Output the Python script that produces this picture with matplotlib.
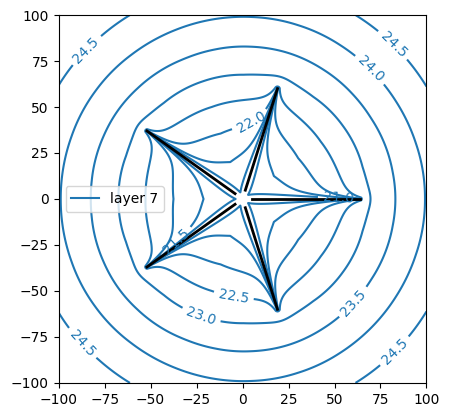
import matplotlib
matplotlib.use("Agg")
import matplotlib.pyplot as plt
import numpy as np
from matplotlib.lines import Line2D

# star arms (tips)
tip_x = np.array([64.0, 19.0, -52.0, -52.0, 19.0])
tip_y = np.array([0.0, 60.0, 37.0, -37.0, -60.0])
arm_inner = 5.0

# radial profile of the surface away from the arms (read along the bisectors)
profile_r = [0, 23, 39, 52, 66, 81, 99, 120, 145]
profile_level = [21.15, 21.6, 22.1, 22.55, 23.03, 23.52, 24.0, 24.5, 25.1]

levels = [21.0, 21.5, 22.0, 22.5, 23.0, 23.5, 24.0, 24.5]
label_pos = [(-88, 84), (84, 86), (70, 71), (3, 45), (52, 0), (-37, -22),
             (-5, -54), (-22, -62), (59, -55), (-91, -82), (85, -85)]

x = np.linspace(-100, 100, 801)
X, Y = np.meshgrid(x, x)
R = np.hypot(X, Y)
coef = np.polyfit(profile_r, profile_level, 3)
Z = np.polyval(coef, R)

# valley along every arm, deep in the middle, narrow at centre and tip
H = np.zeros_like(Z)
for tx, ty in zip(tip_x, tip_y):
    L = np.hypot(tx, ty)
    ux, uy = tx / L, ty / L
    t = np.clip(X * ux + Y * uy, 0, L)
    d = np.hypot(X - t * ux, Y - t * uy)
    K = 0.45 + 0.2 * t * (1 - t / 68)
    H = np.minimum(H, -K * 0.5 / (d + 0.5))
Z = Z + H

fig = plt.figure(figsize=(4.5, 4.18), dpi=100)
ax = fig.add_axes([0.129, 0.084, 0.82, 0.88])
cs = ax.contour(X, Y, Z, levels=levels, colors="C0", linewidths=1.5)
ax.clabel(cs, fmt="%1.1f", fontsize=10, manual=label_pos)

for tx, ty in zip(tip_x, tip_y):
    L = np.hypot(tx, ty)
    ax.plot([tx * arm_inner / L, tx], [ty * arm_inner / L, ty], color="k", lw=2, zorder=3)

ax.set_xlim(-100, 100)
ax.set_ylim(-100, 100)
ax.set_aspect("equal")
ax.set_xticks(np.arange(-100, 101, 25))
ax.set_yticks(np.arange(-100, 101, 25))
ax.legend(handles=[Line2D([], [], color="C0", lw=1.5, label="layer 7")], loc="center left")

fig.savefig("out.png", dpi=100)
